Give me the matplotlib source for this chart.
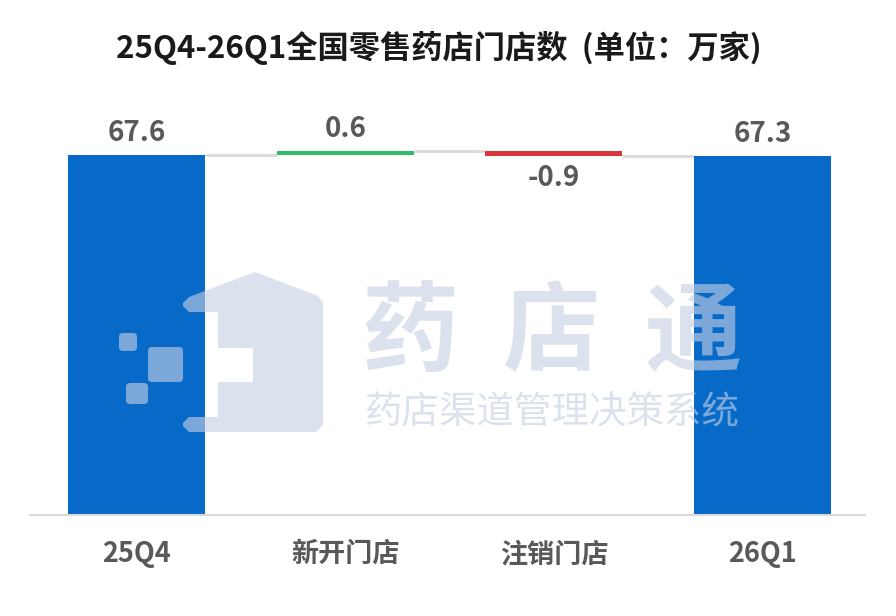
import matplotlib
matplotlib.use('Agg')
import matplotlib.pyplot as plt
from matplotlib.patches import Polygon, FancyBboxPatch
from matplotlib.transforms import Affine2D

# ---- data ----
categories = ['25Q4', '新开门店', '注销门店', '26Q1']
values = [67.6, 0.6, -0.9, 67.3]
kinds = ['total', 'delta', 'delta', 'total']
value_labels = ['67.6', '0.6', '-0.9', '67.3']
title = '25Q4-26Q1全国零售药店门店数  (单位：万家)'
wm_main = ['药', '店', '通']
wm_sub = '药店渠道管理决策系统'

plt.rcParams['font.family'] = ['Noto Sans CJK SC', 'DejaVu Sans']

BLUE = '#086AC8'
GREEN = '#2EBD68'
RED = '#D9363A'
GREY_TXT = '#595959'
CONN = '#DADADA'
WM = '#C6D1E3'
WM_A = 0.61

W, H = 896, 616
fig = plt.figure(figsize=(W / 100, H / 100), dpi=100)
ax = fig.add_axes([30 / W, 1 - 515 / H, 835 / W, 426.4 / H])
ax.set_xlim(-0.51, 3.49)
ax.set_ylim(0, 80)

bw = 0.656
running = 0.0
levels = []
for i, (v, k) in enumerate(zip(values, kinds)):
    if k == 'total':
        bottom, height = 0, v
        running = v
        color = BLUE
    else:
        bottom, height = running, v
        running = running + v
        color = GREEN if v >= 0 else RED
    ax.bar(i, height, bottom=bottom, width=bw, color=color, zorder=2, linewidth=0)
    levels.append(running)
    top = max(bottom, bottom + height)
    low = min(bottom, bottom + height)
    if v >= 0:
        ax.annotate(value_labels[i], xy=(i, top), xytext=(0, 8), textcoords='offset pixels',
                    ha='center', va='bottom', fontsize=20, fontweight='bold', color=GREY_TXT)
    else:
        ax.annotate(value_labels[i], xy=(i, low), xytext=(0, -8), textcoords='offset pixels',
                    ha='center', va='top', fontsize=20, fontweight='bold', color=GREY_TXT)
    ax.annotate(categories[i], xy=(i, 0), xytext=(0, -39), textcoords='offset pixels',
                ha='center', va='center', fontsize=19.5, fontweight='bold', color=GREY_TXT)

# connectors
for i in range(len(values) - 1):
    ax.plot([i + bw / 2, i + 1 - bw / 2], [levels[i], levels[i]], color=CONN, lw=2, zorder=1,
            solid_capstyle='butt')

for s in ['top', 'left', 'right']:
    ax.spines[s].set_visible(False)
ax.spines['bottom'].set_color('#D9D9D9')
ax.spines['bottom'].set_linewidth(1.5)
ax.set_xticks([])
ax.set_yticks([])

fig.text(439 / W, 1 - 48 / H, title, ha='center', va='center', fontsize=22.5,
         fontweight='bold', color='#1a1a1a')

# ---- watermark ----
T = Affine2D().scale(1 / 100, -1 / 100).translate(0, H / 100) + fig.dpi_scale_trans
house = [(255, 272), (318, 296), (323, 303), (323, 425), (316, 432), (189, 432), (183, 426),
         (183, 423), (189, 417), (218, 417), (218, 382), (253, 382), (253, 348), (218, 348),
         (218, 312), (189, 312), (183, 306), (183, 303), (189, 297)]
p = Polygon(house, closed=True, transform=T, facecolor=WM, edgecolor='none', alpha=WM_A, zorder=5)
fig.add_artist(p)
for (x0, y0, x1, y1) in [(119, 333, 137, 351), (148, 347, 183, 382), (126, 383, 148, 404)]:
    b = FancyBboxPatch((x0, y0), x1 - x0, y1 - y0, boxstyle='round,pad=0,rounding_size=4',
                       transform=T, facecolor=WM, edgecolor='none', alpha=WM_A, zorder=5)
    fig.add_artist(b)
for ch, cx in zip(wm_main, [410, 551, 693]):
    fig.text(cx, 335, ch, transform=T, ha='center', va='center', fontsize=70,
             fontweight='bold', color=WM, alpha=WM_A, zorder=6)
fig.text(552, 413, wm_sub, transform=T, ha='center', va='center', fontsize=27,
         fontweight='light', color=WM, alpha=WM_A, zorder=6)

fig.savefig('out.png', dpi=100)
